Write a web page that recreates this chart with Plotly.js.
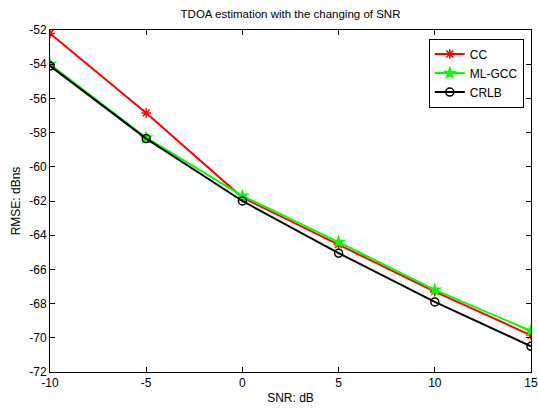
<!DOCTYPE html>
<html>
<head>
<meta charset="utf-8">
<script src="https://cdn.plot.ly/plotly-3.0.1.min.js"></script>
<style>html,body{margin:0;padding:0;background:#fff;}#chart{width:538px;height:410px;}</style>
</head>
<body>
<div id="chart"></div>
<script>
const snr = [-10, -5, 0, 5, 10, 15];
const cc = [-52.2, -56.85, -61.8, -64.55, -67.3, -69.85];
const mlgcc = [-54.0, -58.3, -61.7, -64.4, -67.2, -69.6];
const crlb = [-54.1, -58.35, -62.0, -65.05, -67.9, -70.5];
const seriesNames = ['CC', 'ML-GCC', 'CRLB'];
const xTicks = [-10, -5, 0, 5, 10, 15];
const yTicks = [-72, -70, -68, -66, -64, -62, -60, -58, -56, -54, -52];

const traces = [
  {x: snr, y: cc, name: seriesNames[0], mode: 'lines+markers',
   line: {color: '#ff0000', width: 2},
   marker: {symbol: 'asterisk-open', size: 8, color: '#ff0000', line: {color: '#ff0000', width: 1.5}}},
  {x: snr, y: mlgcc, name: seriesNames[1], mode: 'lines+markers',
   line: {color: '#00ff00', width: 2},
   marker: {symbol: 'star', size: 11, color: '#00ff00', line: {width: 0}}},
  {x: snr, y: crlb, name: seriesNames[2], mode: 'lines+markers',
   line: {color: '#000000', width: 2},
   marker: {symbol: 'circle-open', size: 8, color: '#000000', line: {color: '#000000', width: 1.5}}}
];

const axisCommon = {
  showgrid: false, zeroline: false, showline: true, linecolor: '#000', linewidth: 1,
  mirror: 'ticks', ticks: 'inside', ticklen: 5, tickcolor: '#000', tickwidth: 1,
  tickfont: {family: 'Arial, Liberation Sans, sans-serif', size: 12, color: '#000'}
};

const layout = {
  width: 538, height: 410,
  margin: {l: 50, r: 7, t: 30, b: 38},
  paper_bgcolor: '#fff', plot_bgcolor: '#fff',
  title: {text: 'TDOA estimation with the changing of SNR', x: 0.54, xanchor: 'center', y: 0.965, yanchor: 'middle',
          font: {family: 'Arial, Liberation Sans, sans-serif', size: 11.5, color: '#000'}},
  xaxis: Object.assign({}, axisCommon, {range: [-10, 15], tickvals: xTicks, ticktext: xTicks.map(String),
    title: {text: 'SNR: dB', standoff: 4, font: {family: 'Arial, Liberation Sans, sans-serif', size: 12, color: '#000'}}}),
  yaxis: Object.assign({}, axisCommon, {range: [-72, -52], tickvals: yTicks, ticktext: yTicks.map(String),
    title: {text: 'RMSE: dBns', standoff: 6, font: {family: 'Arial, Liberation Sans, sans-serif', size: 12, color: '#000'}}}),
  showlegend: true,
  legend: {x: 0.985, y: 0.975, xanchor: 'right', yanchor: 'top', bgcolor: '#fff', bordercolor: '#000', borderwidth: 1,
           font: {family: 'Arial, Liberation Sans, sans-serif', size: 12, color: '#000'}, tracegroupgap: 0}
};

Plotly.newPlot('chart', traces, layout, {displayModeBar: false, staticPlot: true});
</script>
</body>
</html>
